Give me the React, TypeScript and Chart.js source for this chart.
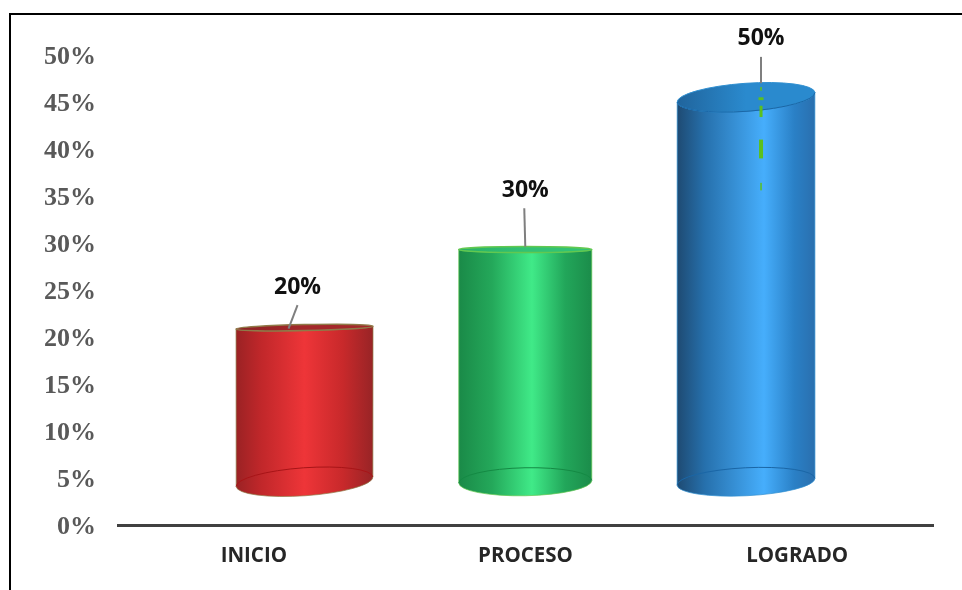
import React, { useEffect, useRef } from "react";
import { Chart, registerables } from "chart.js";

Chart.register(...registerables);

const categories = ["INICIO", "PROCESO", "LOGRADO"];
const barBases = [4.6, 4.6, 4.6];
const barTops = [21.0, 29.3, 45.5];
const shownLabels = ["20%", "30%", "50%"];
const yTicksMax = 50;
const yTickStep = 5;
const baseColors = ["#d42a2c", "#27b060", "#2a80c8"];
const gradients = [
  [[0, "#9a2224"], [0.18, "#c0272a"], [0.5, "#ee3538"], [0.78, "#c8292b"], [1, "#982426"]],
  [[0, "#1a8a48"], [0.25, "#24a85a"], [0.55, "#40ea88"], [0.8, "#22a65a"], [1, "#1b8c4a"]],
  [[0, "#1e4a72"], [0.2, "#2670ac"], [0.63, "#46aefc"], [0.85, "#2a80c6"], [1, "#2a6fae"]],
];
const topDark = ["#8c2224", "#2ab066", "#20649c"];
const topFill = ["#a4282a", "#32c274", "#2a8ace"];
const rimColors = ["#8f7a48", "#62c850", "#2f8fd0"];
const backRim = ["#a81417", "#148a44", "#1a66a6"];
const barWidths = [137, 133, 138];
const topRadii = [3, 3, 14];
const topTilts = [-0.02, 0, -0.07];
const baseRadii = [14, 14, 14];
const baseTilts = [-0.07, -0.02, -0.05];
const leaderTilt = [9, -1, 0];
const leaderFrom = [20.9, 29.6, 47.0];
const leaderTo = [23.4, 33.7, 49.8];
const labelAt = [25.3, 35.6, 51.8];
const labelShift = [-7, 0, 15];
const leaderShift = [-16, 0, 15];
const specks = [[46.6, 46.2, 1.5], [45.5, 45.2, 5], [44.6, 43.4, 3], [41.0, 39.0, 4], [36.4, 35.6, 1.5]];

const cylinderPlugin = {
  id: "cylinder",
  beforeDatasetDraw(chart: any, args: any) {
    const i = args.index;
    const el = chart.getDatasetMeta(i).data[0];
    const ctx = chart.ctx;
    const { x: cx, y: top, base, width } = el.getProps(["x", "y", "base", "width"], true);
    const a = width / 2;
    const g = ctx.createLinearGradient(cx - a, 0, cx + a, 0);
    gradients[i].forEach((s: any) => g.addColorStop(s[0], s[1]));
    const tg = ctx.createLinearGradient(cx - a, 0, cx + a, 0);
    tg.addColorStop(0, topDark[i]);
    tg.addColorStop(0.5, topFill[i]);
    tg.addColorStop(1, topFill[i]);
    ctx.save();
    // body
    ctx.beginPath();
    ctx.moveTo(cx - a * Math.cos(topTilts[i]), top - a * Math.sin(topTilts[i]));
    ctx.lineTo(cx - a * Math.cos(baseTilts[i]), base - a * Math.sin(baseTilts[i]));
    ctx.ellipse(cx, base, a, baseRadii[i], baseTilts[i], Math.PI, 0, true);
    ctx.lineTo(cx + a * Math.cos(topTilts[i]), top + a * Math.sin(topTilts[i]));
    ctx.ellipse(cx, top, a, topRadii[i], topTilts[i], 0, Math.PI, false);
    ctx.closePath();
    ctx.fillStyle = g;
    ctx.fill();
    ctx.strokeStyle = rimColors[i];
    ctx.lineWidth = 1;
    ctx.globalAlpha = 0.7;
    ctx.stroke();
    ctx.globalAlpha = 1;
    // back of the base
    ctx.beginPath();
    ctx.ellipse(cx, base, a, baseRadii[i], baseTilts[i], Math.PI, 0, false);
    ctx.strokeStyle = backRim[i];
    ctx.lineWidth = 1;
    ctx.stroke();
    // top
    ctx.beginPath();
    ctx.ellipse(cx, top, a, topRadii[i], topTilts[i], 0, Math.PI * 2);
    ctx.fillStyle = tg;
    ctx.fill();
    ctx.strokeStyle = rimColors[i];
    ctx.lineWidth = i === 2 ? 1 : 1.5;
    ctx.stroke();
    if (i === 2) {
      ctx.beginPath();
      ctx.ellipse(cx, top, a, topRadii[i], topTilts[i], 0, Math.PI, false);
      ctx.strokeStyle = backRim[i];
      ctx.stroke();
    }
    ctx.restore();
    return false;
  },
  afterDatasetsDraw(chart: any) {
    const ctx = chart.ctx;
    const yS = chart.scales.y;
    ctx.save();
    categories.forEach((_, i) => {
      const el = chart.getDatasetMeta(i).data[0];
      const lx = el.x + leaderShift[i];
      ctx.beginPath();
      ctx.moveTo(lx, yS.getPixelForValue(leaderFrom[i]));
      ctx.lineTo(lx + leaderTilt[i], yS.getPixelForValue(leaderTo[i]));
      ctx.strokeStyle = "#7f7f7f";
      ctx.lineWidth = 2;
      ctx.stroke();
      ctx.font = "bold 23px 'Open Sans'";
      ctx.fillStyle = "#111111";
      ctx.textAlign = "center";
      ctx.textBaseline = "middle";
      ctx.fillText(shownLabels[i], el.x + labelShift[i], yS.getPixelForValue(labelAt[i]));
    });
    const blue = chart.getDatasetMeta(2).data[0];
    ctx.fillStyle = "#5cc01e";
    specks.forEach((s) => {
      const y0 = yS.getPixelForValue(s[0]);
      const y1 = yS.getPixelForValue(s[1]);
      ctx.fillRect(blue.x + 15 - s[2] / 2, y0, s[2], y1 - y0);
    });
    ctx.restore();
  },
};

export default function App() {
  const ref = useRef<HTMLCanvasElement>(null);
  useEffect(() => {
    const chart = new Chart(ref.current!, {
      type: "bar",
      data: {
        labels: categories,
        datasets: categories.map((c, i) => ({
          label: c,
          xAxisID: "xBars",
          yAxisID: "y",
          grouped: false,
          barThickness: barWidths[i],
          backgroundColor: baseColors[i],
          data: [{ x: i, y: [barBases[i], barTops[i]] }],
        })),
      } as any,
      options: {
        animation: false,
        responsive: false,
        layout: { padding: { top: 55, right: 29, left: 0, bottom: 0 } },
        plugins: { legend: { display: false }, tooltip: { enabled: false } },
        scales: {
          x: {
            type: "category",
            offset: true,
            grid: { display: false, drawTicks: false },
            border: { display: true, color: "#404040", width: 3 },
            ticks: { color: "#262626", padding: 19, font: { family: "'Open Sans'", weight: "bold", size: 20.5 } },
            afterFit: (s: any) => { s.height = 65; },
          },
          xBars: { type: "linear", axis: "x", display: false, offset: false, min: -0.845, max: 2.847 },
          y: {
            min: 0,
            max: yTicksMax,
            grid: { display: false, drawTicks: false },
            border: { display: false },
            ticks: { stepSize: yTickStep, color: "#595959", padding: 22, labelOffset: 2, callback: (v: any) => v + "%", font: { family: "'Liberation Serif'", weight: "bold", size: 26 } },
            afterFit: (s: any) => { s.width = 118; },
          },
        },
      } as any,
      plugins: [cylinderPlugin],
    });
    return () => chart.destroy();
  }, []);
  return (
    <div style={{ position: "absolute", left: 0, top: 0, width: 962, height: 590, background: "#fff", overflow: "hidden" }}>
      <div style={{ position: "absolute", left: 9, top: 13, width: 962, height: 600, borderLeft: "2px solid #000", borderTop: "2px solid #000" }} />
      <canvas ref={ref} width={962} height={590} style={{ position: "absolute", left: 0, top: 0 }} />
    </div>
  );
}
